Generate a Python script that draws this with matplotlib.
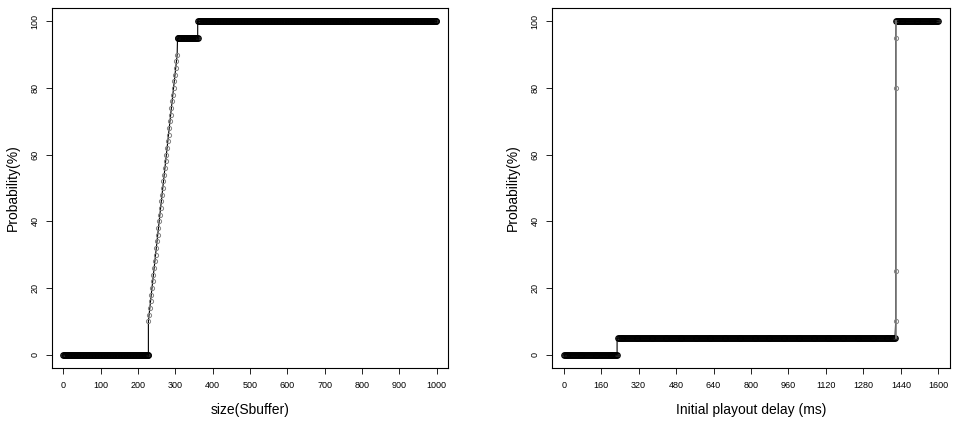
import numpy as np
import matplotlib
matplotlib.use("Agg")
import matplotlib.pyplot as plt

plt.rcParams['font.family'] = ['Liberation Sans', 'DejaVu Sans']

# Left panel: buffer size vs probability
left_zero_x = (0, 228)
left_ramp_start_x, left_ramp_end_x = 228, 305
left_ramp_y = [10, 12, 14, 16, 18, 20, 22, 24, 26, 28, 30, 32, 34, 36, 38, 40, 42, 44, 46, 48, 50,
               52, 54, 56, 58, 60, 62, 64, 66, 68, 70, 72, 74, 76, 78, 80, 82, 84, 86, 88, 90]
left_95_x = (306, 360)
left_100_x = (361, 1000)
left_xticks = [0, 100, 200, 300, 400, 500, 600, 700, 800, 900, 1000]

# Right panel: initial playout delay vs probability
right_zero_x = (0, 230)
right_five_x = (231, 1418)
right_jump_x = 1418
right_jump_y = [10, 25, 80, 95]
right_100_x = (1419, 1600)
right_xticks = [0, 160, 320, 480, 640, 800, 960, 1120, 1280, 1440, 1600]
yticks = [0, 20, 40, 60, 80, 100]

fig = plt.figure(figsize=(9.58, 4.26), dpi=100)
axL = fig.add_axes([52/958, 1-368/426, 396/958, 360/426])
axR = fig.add_axes([552/958, 1-368/426, 398/958, 360/426])

mk = dict(marker='o', mfc='none', ms=4, mew=0.8, ls='none')

def flat(ax, rng, y, step):
    xs = np.arange(rng[0], rng[1] + 1, step)
    ax.plot(xs, np.full(len(xs), y), color='black', **mk)
    return xs

# left
xz = flat(axL, left_zero_x, 0, 2)
rx = np.linspace(left_ramp_start_x, left_ramp_end_x, len(left_ramp_y))
x95 = flat(axL, left_95_x, 95, 2)
x100 = flat(axL, left_100_x, 100, 2)
line_x = list(xz) + [left_ramp_start_x] + list(rx) + list(x95) + [x95[-1]] + list(x100)
line_y = [0]*len(xz) + [0] + left_ramp_y + [95]*len(x95) + [100] + [100]*len(x100)
axL.plot(line_x, line_y, color='black', lw=0.8)
axL.plot(rx, left_ramp_y, color='gray', marker='o', mfc='none', ms=3, mew=0.7, ls='none')
axL.set_xlim(-30, 1030)
axL.set_ylim(-4, 104)
axL.set_xticks(left_xticks)
axL.set_xlabel('size(Sbuffer)', fontsize=10, labelpad=10)

# right
xz = flat(axR, right_zero_x, 0, 4)
x5 = flat(axR, right_five_x, 5, 4)
x100 = flat(axR, right_100_x, 100, 4)
line_x = list(xz) + [xz[-1]] + list(x5) + [right_jump_x]*len(right_jump_y) + list(x100)
line_y = [0]*len(xz) + [5] + [5]*len(x5) + right_jump_y + [100]*len(x100)
axR.plot(line_x, line_y, color='black', lw=0.8)
axR.plot([right_jump_x]*2, [5, 100], color='gray', lw=1.2)
axR.plot([right_jump_x]*len(right_jump_y), right_jump_y, color='gray',
         marker='o', mfc='none', ms=3, mew=0.7, ls='none')
axR.set_xlim(-50, 1650)
axR.set_ylim(-4, 104)
axR.set_xticks(right_xticks)
axR.set_xlabel('Initial playout delay (ms)', fontsize=10, labelpad=10)

for ax in (axL, axR):
    ax.set_yticks(yticks)
    ax.set_ylabel('Probability(%)', fontsize=10, labelpad=8)
    ax.tick_params(labelsize=6.5, length=4, width=0.6, pad=5)
    for lab in ax.get_yticklabels():
        lab.set_rotation(90)
        lab.set_va('center')
    for s in ax.spines.values():
        s.set_linewidth(0.8)

fig.savefig('out.png', dpi=100)
